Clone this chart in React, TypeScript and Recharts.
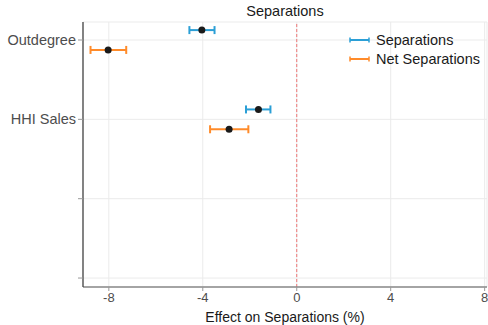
import { CartesianGrid, ErrorBar, ReferenceLine, Scatter, ScatterChart, XAxis, YAxis } from "recharts";

const rows = ["Outdegree", "HHI Sales", "", ""];
const rowPos = [4, 3, 2, 1];

const sepEst = [-4.04, -1.63];
const sepLow = [-4.57, -2.16];
const sepHigh = [-3.5, -1.12];

const netEst = [-8.03, -2.88];
const netLow = [-8.78, -3.69];
const netHigh = [-7.26, -2.06];

const xTicks = [-8, -4, 0, 4, 8];

const BLUE = "#2b9fd6";
const ORANGE = "#ff8b2a";
const DODGE = 0.125;

const build = (est: number[], low: number[], high: number[], shift: number) =>
  est.map((v, i) => ({
    name: rows[i],
    x: v,
    y: rowPos[i] + shift,
    err: [v - low[i], high[i] - v],
  }));

const sepData = build(sepEst, sepLow, sepHigh, DODGE);
const netData = build(netEst, netLow, netHigh, -DODGE);

const Dot = (props: any) => <circle cx={props.cx} cy={props.cy} r={3.5} fill="#1a1a1a" />;

const LegendBox = () => (
  <div
    style={{
      position: "absolute",
      left: 349,
      top: 30,
      fontFamily: "Liberation Sans, Arial, sans-serif",
      fontSize: 14.5,
      color: "#1a1a1a",
    }}
  >
    {[
      { label: "Separations", color: BLUE },
      { label: "Net Separations", color: ORANGE },
    ].map((it) => (
      <div key={it.label} style={{ display: "flex", alignItems: "center", height: 19 }}>
        <svg width={27} height={10}>
          <line x1={1} y1={5} x2={20} y2={5} stroke={it.color} strokeWidth={2} />
          <line x1={1} y1={2.5} x2={1} y2={7.5} stroke={it.color} strokeWidth={1.5} />
          <line x1={20} y1={2.5} x2={20} y2={7.5} stroke={it.color} strokeWidth={1.5} />
        </svg>
        <span>{it.label}</span>
      </div>
    ))}
  </div>
);

export default function App() {
  return (
    <div style={{ position: "absolute", left: 0, top: 0, width: 488, height: 325, background: "#fff" }}>
      <ScatterChart
        width={488}
        height={325}
        margin={{ top: 22, right: 1, bottom: 0, left: 0 }}
        style={{ fontFamily: "Liberation Sans, Arial, sans-serif" }}
      >
        <CartesianGrid stroke="#ebebeb" strokeWidth={1} />
        <XAxis
          type="number"
          dataKey="x"
          domain={[-9.1, 8.1]}
          ticks={xTicks}
          allowDataOverflow
          height={38}
          tick={{ fontSize: 13, fill: "#4d4d4d" }}
          tickSize={4}
          tickLine={{ stroke: "#999" }}
          axisLine={{ stroke: "#888", strokeWidth: 1.3 }}
          label={{ value: "Effect on Separations (%)", position: "insideBottom", offset: 3, fontSize: 14, fill: "#1a1a1a" }}
        />
        <YAxis
          type="number"
          dataKey="y"
          domain={[0.887, 4.227]}
          ticks={rowPos}
          allowDataOverflow
          width={83}
          tickFormatter={(v: number) => rows[rowPos.indexOf(v)] ?? ""}
          tick={{ fontSize: 14.5, fill: "#4d4d4d" }}
          tickSize={5}
          tickLine={{ stroke: "#999" }}
          axisLine={{ stroke: "#444", strokeWidth: 1.3 }}
        />
        <ReferenceLine x={0} stroke="#ee7777" strokeDasharray="3 2" strokeWidth={1} />
        <Scatter data={sepData} name="Separations" shape={Dot} isAnimationActive={false}>
          <ErrorBar dataKey="err" direction="x" width={4} stroke={BLUE} strokeWidth={2} />
        </Scatter>
        <Scatter data={netData} name="Net Separations" shape={Dot} isAnimationActive={false}>
          <ErrorBar dataKey="err" direction="x" width={4} stroke={ORANGE} strokeWidth={2} />
        </Scatter>
      </ScatterChart>
      <div
        style={{
          position: "absolute",
          left: 83,
          width: 404,
          top: 3,
          textAlign: "center",
          fontFamily: "Liberation Sans, Arial, sans-serif",
          fontSize: 14.5,
          color: "#1a1a1a",
        }}
      >
        Separations
      </div>
      <LegendBox />
    </div>
  );
}
